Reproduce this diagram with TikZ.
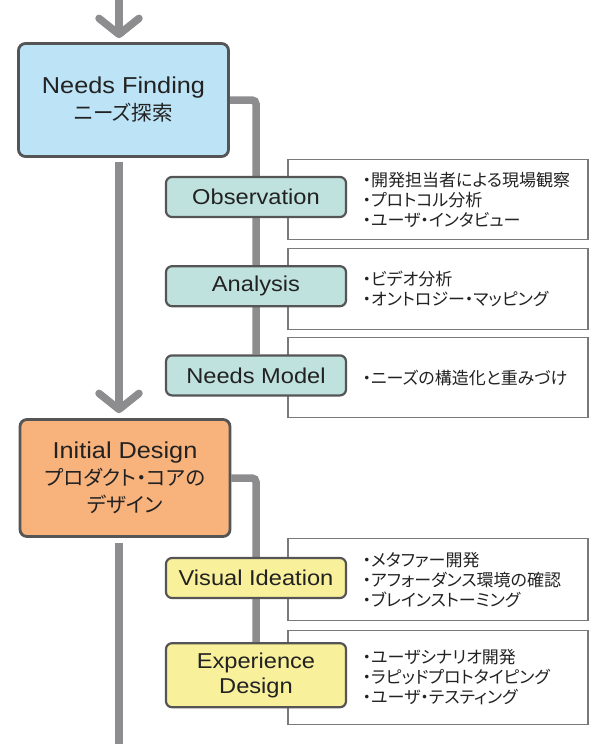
\documentclass[tikz,border=0pt]{standalone}
\usepackage{fontspec}
\setmainfont{Liberation Sans}[FakeStretch=1.1]
\newfontfamily\jp{Noto Sans CJK JP}[RawFeature=+palt]
\usetikzlibrary{positioning, arrows.meta, backgrounds}
\definecolor{findBlue}{HTML}{BCE3F6}
\definecolor{designOrange}{HTML}{F8B27C}
\definecolor{obsTeal}{HTML}{BFE2DF}
\definecolor{ideaYellow}{HTML}{F8F09B}
\definecolor{edgeGray}{HTML}{555555}
\definecolor{memoGray}{HTML}{7A7A7A}
\definecolor{flowGray}{HTML}{8D8D90}
\definecolor{inkBlack}{HTML}{222222}
\newcommand{\stageFont}{\fontsize{23}{27}\selectfont}
\newcommand{\stageJp}{\jp\fontsize{20.5}{27}\selectfont}
\newcommand{\taskFont}{\fontsize{21.5}{25}\selectfont}
\newcommand{\listFont}{\jp\fontsize{17}{20}\selectfont}
\tikzstyle{stage} = [rectangle, rounded corners=7pt, draw=edgeGray, line width=2.8pt, minimum width=210pt, minimum height=113pt, align=center, text=inkBlack, font=\stageFont]
\tikzstyle{task} = [rectangle, rounded corners=6pt, draw=edgeGray, line width=2.2pt, minimum width=180pt, minimum height=40pt, align=center, text=inkBlack, font=\taskFont]
\tikzstyle{memo} = [rectangle, draw=memoGray, fill=white, line width=1.2pt, minimum width=300pt]
\tikzstyle{list} = [inner sep=0pt, align=left, text=inkBlack, font=\listFont]
\tikzstyle{flow} = [line width=7.5pt, draw=flowGray]
\tikzstyle{arrow} = [flow, -{Straight Barb[length=16pt, width=40pt, round]}]

\begin{document}
\begin{tikzpicture}[x=1pt, y=-1pt]
	\useasboundingbox (0,0) rectangle (590,744);
	% memo boxes behind the steps
	\node (obsMemo) [memo, minimum height=80pt] at (438,199.5) {};
	\node (anaMemo) [memo, minimum height=81pt] at (438,289) {};
	\node (modelMemo) [memo, minimum height=80pt] at (438,377.5) {};
	\node (visMemo) [memo, minimum height=82pt] at (438,579.5) {};
	\node (expMemo) [memo, minimum height=94pt] at (438,677.5) {};
	% stages
	\node (needs) [stage, fill=findBlue] at (123.5,100) {Needs Finding\\\stageJp ニーズ探索};
	\node (initial) [stage, fill=designOrange, minimum height=117pt] at (125,478) {Initial Design\\\stageJp プロダクト・コアの\\\stageJp デザイン};
	% steps
	\node (obs) [task, fill=obsTeal] at (256,197) {Observation};
	\node (ana) [task, fill=obsTeal, below=47pt of obs] {Analysis};
	\node (model) [task, fill=obsTeal, below=47pt of ana] {Needs Model};
	\node (vis) [task, fill=ideaYellow] at (256,578) {Visual Ideation};
	\node (exp) [task, fill=ideaYellow, minimum height=64pt, below=43pt of vis] {Experience\\Design};
	% lists
	\node (obsList) [list, right=75pt of obsMemo.west] {・開発担当者による現場観察\\・プロトコル分析\\・ユーザ・インタビュー};
	\node (anaList) [list, right=75pt of anaMemo.west] {・ビデオ分析\\・オントロジー・マッピング};
	\node (modelList) [list, right=75pt of modelMemo.west] {・ニーズの構造化と重みづけ};
	\node (visList) [list, right=75pt of visMemo.west] {・メタファー開発\\・アフォーダンス環境の確認\\・ブレインストーミング};
	\node (expList) [list, right=75pt of expMemo.west] {・ユーザシナリオ開発\\・ラピッドプロトタイピング\\・ユーザ・テスティング};
	% connectors
	\coordinate (entry) at (119,0);
	\coordinate (exit) at (119,744);
	\begin{scope}[on background layer]
		\draw [arrow, shorten >=4pt] (entry) -- (entry |- needs.north);
		\draw [arrow, shorten <=4pt, shorten >=5pt] (entry |- needs.south) -- (entry |- initial.north);
		\draw [flow, shorten <=5pt] (entry |- initial.south) -- (exit);
		\draw [flow, rounded corners=4pt] (needs.east) -| (model.north);
		\draw [flow, rounded corners=4pt] (initial.east) -| (exp.north);
	\end{scope}
\end{tikzpicture}
\end{document}
